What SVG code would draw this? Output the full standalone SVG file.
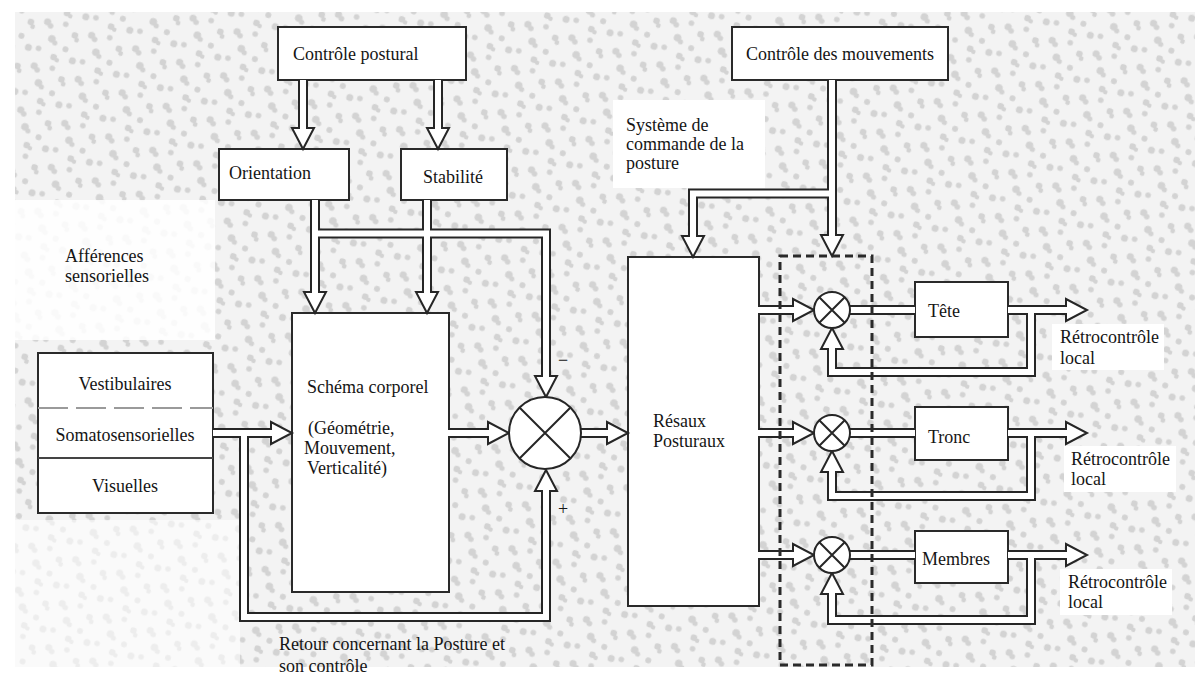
<svg xmlns="http://www.w3.org/2000/svg" width="1201" height="677" viewBox="0 0 1201 677">
<defs>
<pattern id="tex" width="46" height="46" patternUnits="userSpaceOnUse" patternTransform="rotate(17)">
<rect width="46" height="46" fill="#f3f3f3"/>
<g fill="#d3d3d3">
<circle cx="6" cy="7" r="3.6"/><circle cx="10" cy="10" r="2.8"/>
<circle cx="24" cy="4" r="2.8"/>
<circle cx="36" cy="12" r="3.3"/><circle cx="39" cy="16" r="2.4"/>
<circle cx="15" cy="22" r="3.8"/><circle cx="19" cy="25" r="2.6"/>
<circle cx="31" cy="28" r="3"/>
<circle cx="5" cy="35" r="2.8"/>
<circle cx="22" cy="39" r="3.3"/><circle cx="26" cy="41" r="2.2"/>
<circle cx="41" cy="37" r="3.5"/>
</g>
</pattern>
<style>
.box{fill:#fff;stroke:#2a2a2a;stroke-width:2}
.t{font-family:"Liberation Serif","Times New Roman",serif;font-size:18px;fill:#151515}
.co{fill:none;stroke:#262626;stroke-width:10;stroke-linejoin:miter}
.ci{fill:none;stroke:#fff;stroke-width:6;stroke-linejoin:miter}
.ah{fill:#fff;stroke:#262626;stroke-width:2;stroke-linejoin:miter}
.x{stroke:#262626;stroke-width:2;fill:#fff}
.dash{fill:none;stroke:#2a2a2a;stroke-width:3;stroke-dasharray:8 5}
</style>
</defs>
<rect width="1201" height="677" fill="#fff"/>
<rect x="15" y="12" width="1180" height="655" fill="url(#tex)"/>
<rect x="15" y="200" width="200" height="140" fill="#fff" opacity="0.85"/>
<rect x="15" y="520" width="225" height="147" fill="#fff" opacity="0.6"/>
<rect x="613" y="100" width="152" height="88" fill="#fff"/>
<rect x="1052" y="324" width="112" height="46" fill="#fff"/>
<rect x="1064" y="446" width="112" height="46" fill="#fff"/>
<rect x="1060" y="569" width="112" height="46" fill="#fff"/>

<g id="controle-postural"><rect class="box" x="278" y="27" width="188" height="53"/><text class="t" x="293" y="60">Contrôle postural</text></g>
<g id="orientation"><rect class="box" x="219" y="149" width="130" height="51"/><text class="t" x="229" y="179">Orientation</text></g>
<g id="stabilite"><rect class="box" x="401" y="149" width="106" height="51"/><text class="t" x="423" y="183">Stabilité</text></g>
<g id="controle-mouvements"><rect class="box" x="732" y="27" width="216" height="53"/><text class="t" x="746" y="60">Contrôle des mouvements</text></g>
<g id="afferences-label"><text class="t" x="65" y="262">Afférences</text><text class="t" x="65" y="282">sensorielles</text></g>
<g id="systeme-label"><text class="t" x="626" y="131">Système de</text><text class="t" x="626" y="150">commande de la</text><text class="t" x="626" y="169">posture</text></g>
<g id="afferences">
<rect class="box" x="38" y="353" width="175" height="160"/>
<line x1="38" y1="408" x2="213" y2="408" stroke="#9a9a9a" stroke-width="2" stroke-dasharray="30 8"/>
<line x1="38" y1="458" x2="213" y2="458" stroke="#444" stroke-width="2"/>
<text class="t" x="125" y="390" text-anchor="middle">Vestibulaires</text>
<text class="t" x="125" y="441" text-anchor="middle">Somatosensorielles</text>
<text class="t" x="125" y="492" text-anchor="middle">Visuelles</text>
</g>
<g id="schema-corporel"><rect class="box" x="292" y="313" width="157" height="279"/>
<text class="t" x="307" y="393">Schéma corporel</text>
<text class="t" x="308" y="434">(Géométrie,</text>
<text class="t" x="304" y="454">Mouvement,</text>
<text class="t" x="307" y="474">Verticalité)</text></g>
<g id="reseaux"><rect class="box" x="628" y="257" width="131" height="349"/>
<text class="t" x="653" y="427">Résaux</text><text class="t" x="653" y="447">Posturaux</text></g>
<g id="tete"><rect class="box" x="915" y="282" width="93" height="55"/><text class="t" x="928" y="317">Tête</text></g>
<g id="tronc"><rect class="box" x="915" y="407" width="93" height="53"/><text class="t" x="928" y="443">Tronc</text></g>
<g id="membres"><rect class="box" x="915" y="531" width="93" height="52"/><text class="t" x="922" y="565">Membres</text></g>

<g id="connectors">
<g class="co">
<path d="M303,80V128"/><path d="M438,80V128"/>
<path d="M315,200V292"/><path d="M427,200V292"/>
<path d="M315,233.5H546V376"/>
<path d="M449,433H488"/><path d="M581,433H607"/>
<path d="M213,433H271"/>
<path d="M244,433V617H546V491"/>
<path d="M832,80V235"/><path d="M832,193.5H693V236"/>
<path d="M759,310H793"/><path d="M759,433H793"/><path d="M759,555H793"/>
<path d="M850,310H915"/><path d="M850,433H915"/><path d="M850,555H915"/>
<path d="M1008,310H1066"/><path d="M1008,433H1066"/><path d="M1008,555H1066"/>
<path d="M1031,310V372H832V349"/><path d="M1031,433V496H832V472"/><path d="M1031,555V620H832V594"/>
</g>
<g class="ah">
<path d="M292,128H314L303,149Z"/><path d="M427,128H449L438,149Z"/>
<path d="M304,292H326L315,313Z"/><path d="M416,292H438L427,313Z"/>
<path d="M535,376H557L546,397Z"/>
<path d="M488,422V444L509,433Z"/><path d="M607,422V444L628,433Z"/>
<path d="M271,422V444L292,433Z"/>
<path d="M535,491H557L546,470Z"/>
<path d="M821,235H843L832,256Z"/><path d="M682,236H704L693,257Z"/>
<path d="M793,299V321L814,310Z"/><path d="M793,422V444L814,433Z"/><path d="M793,544V566L814,555Z"/>
<path d="M1066,299V321L1087,310Z"/><path d="M1066,422V444L1087,433Z"/><path d="M1066,544V566L1087,555Z"/>
<path d="M821,349H843L832,328Z"/><path d="M821,472H843L832,451Z"/><path d="M821,594H843L832,573Z"/>
</g>
<g class="ci">
<path d="M303,80V130"/><path d="M438,80V130"/>
<path d="M315,200V294"/><path d="M427,200V294"/>
<path d="M315,233.5H546V378"/>
<path d="M446,433H490"/><path d="M581,433H609"/>
<path d="M213,433H273"/>
<path d="M244,433V617H546V489"/>
<path d="M832,80V237"/><path d="M832,193.5H693V238"/>
<path d="M756,310H795"/><path d="M756,433H795"/><path d="M756,555H795"/>
<path d="M850,310H915"/><path d="M850,433H915"/><path d="M850,555H915"/>
<path d="M1008,310H1068"/><path d="M1008,433H1068"/><path d="M1008,555H1068"/>
<path d="M1031,310V372H832V347"/><path d="M1031,433V496H832V470"/><path d="M1031,555V620H832V592"/>
</g>
</g>

<g id="sommateur">
<circle class="x" cx="545" cy="433" r="36"/>
<path d="M519.5,407.5L570.5,458.5M570.5,407.5L519.5,458.5" stroke="#262626" stroke-width="2"/>
<text class="t" x="563" y="366" text-anchor="middle" font-size="18">−</text>
<text class="t" x="563" y="515" text-anchor="middle" font-size="16">+</text>
</g>
<g id="sommateur-tete"><circle class="x" cx="832" cy="310" r="18"/><path d="M819.3,297.3L844.7,322.7M844.7,297.3L819.3,322.7" stroke="#262626" stroke-width="2"/></g>
<g id="sommateur-tronc"><circle class="x" cx="832" cy="433" r="18"/><path d="M819.3,420.3L844.7,445.7M844.7,420.3L819.3,445.7" stroke="#262626" stroke-width="2"/></g>
<g id="sommateur-membres"><circle class="x" cx="832" cy="555" r="18"/><path d="M819.3,542.3L844.7,567.7M844.7,542.3L819.3,567.7" stroke="#262626" stroke-width="2"/></g>
<g id="zone-pointillee"><rect class="dash" x="780" y="256" width="92" height="409"/></g>
<g id="labels">
<text class="t" x="1060" y="343">Rétrocontrôle</text><text class="t" x="1060" y="364">local</text>
<text class="t" x="1071" y="465">Rétrocontrôle</text><text class="t" x="1071" y="485">local</text>
<text class="t" x="1068" y="588">Rétrocontrôle</text><text class="t" x="1068" y="608">local</text>
<text class="t" x="279" y="650">Retour concernant la Posture et</text>
<text class="t" x="279" y="672">son contrôle</text>
</g>
</svg>
